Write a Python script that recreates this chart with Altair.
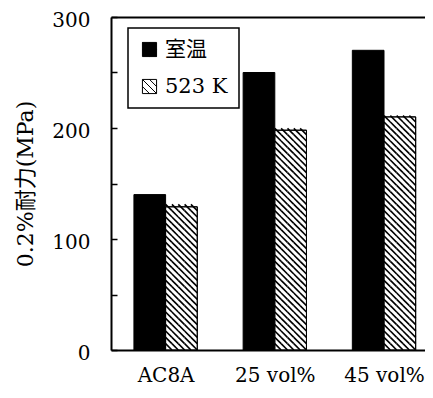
import json
import altair as alt
import pandas as pd

# ---- data ----
categories = ["AC8A", "25 vol%", "45 vol%"]
series = ["室温", "523 K"]
room_temp = [140, 250, 270]
hot_523k = [129, 198, 210]
y_ticks_major = [0, 100, 200, 300]
y_ticks_minor = [0, 50, 100, 150, 200, 250, 300]

# ---- layout ----
STEP = 109.2                 # px per category
W, H = 314, 333
XMIN = -0.5
XMAX = XMIN + W / STEP
YMAX = 300
HW = 0.29                    # bar width in category units
NCOL = 5                     # hatch cells across a bar
KX = STEP
KY = H / YMAX
CELL = HW * KX / NCOL

SERIF = "DejaVu Serif, Noto Sans CJK JP"

rows = []
for i, c in enumerate(categories):
    for s, vals in enumerate([room_temp, hot_523k]):
        rows.append({"cat": c, "series": series[s], "value": vals[i], "idx": i, "sidx": s})
df = pd.DataFrame(rows)

base = alt.Chart(df).transform_calculate(
    x0=f"datum.idx + (datum.sidx - 1) * {HW}",
    x1=f"datum.idx + datum.sidx * {HW}",
)

xscale = alt.Scale(domain=[XMIN, XMAX], nice=False, zero=False)
yscale = alt.Scale(domain=[0, YMAX], nice=False)

label_expr = f"{json.dumps(categories, ensure_ascii=False)}[datum.value]"

hatch_path = "M-1,-1H1V1H-1Z M-1,0L0,1 M-1,-1L1,1 M0,-1L1,0"

bars = base.mark_bar(stroke="black", strokeWidth=1).encode(
    x=alt.X("x0:Q", scale=xscale, axis=alt.Axis(
        orient="bottom", values=[0, 1, 2], labelExpr=label_expr, title=None,
        ticks=False, grid=False, domainColor="black", domainWidth=2,
        labelFont=SERIF, labelFontSize=20, labelColor="black", labelPadding=15)),
    x2="x1:Q",
    y=alt.Y("value:Q", scale=yscale, axis=alt.Axis(
        orient="left", values=y_ticks_major, title="0.2%耐力(MPa)",
        ticks=False, tickSize=0, grid=False, domainColor="black", domainWidth=2,
        labelFont=SERIF, labelFontSize=20, labelColor="black", labelPadding=21,
        labelOffset=3,
        titleFont=SERIF, titleFontSize=22, titleFontWeight="normal",
        titleColor="black", titlePadding=14)),
    y2=alt.datum(0),
    fill=alt.Fill("series:N", scale=alt.Scale(domain=series, range=["black", "white"]),
                  legend=alt.Legend(title=None, orient="none", legendX=17, legendY=11,
                                    symbolType=hatch_path, symbolSize=200,
                                    symbolStrokeColor="black", symbolStrokeWidth=1,
                                    labelFont=SERIF, labelFontSize=21, labelColor="black",
                                    labelOffset=5, padding=11, rowPadding=15,
                                    fillColor="white", strokeColor="black")),
)

hatch = alt.Chart(df[df["sidx"] == 1]).transform_calculate(
    row=f"sequence(0, round(datum.value * {KY / CELL}))",
    col=f"sequence(0, {NCOL})",
).transform_flatten(["row"]).transform_flatten(["col"]).transform_calculate(
    hx=f"datum.idx + {CELL / KX} * (datum.col + 0.5)",
    hy=f"{CELL / KY} * (datum.row + 0.5)",
).mark_point(shape="M-1,-1L1,1", size=CELL ** 2, color="black", strokeWidth=1.6,
             filled=False, opacity=1).encode(
    x=alt.X("hx:Q", scale=xscale, axis=alt.Axis(
        orient="top", labels=False, ticks=False, title=None, grid=False,
        domainColor="black", domainWidth=2)),
    y=alt.Y("hy:Q", scale=yscale, axis=alt.Axis(
        orient="right", offset=-W, values=y_ticks_minor, labels=False, domain=False,
        title=None, grid=False, ticks=True, tickSize=6, tickWidth=1.5, tickColor="black")),
)

outline = base.transform_filter("datum.sidx == 1").mark_bar(
    filled=False, color="black", strokeWidth=1).encode(
    x=alt.X("x0:Q", scale=xscale, axis=None),
    x2="x1:Q",
    y=alt.Y("value:Q", scale=yscale, axis=None),
    y2=alt.datum(0),
)

chart = alt.layer(bars, hatch, outline).resolve_axis(
    x="independent", y="independent"
).properties(
    width=W, height=H,
    autosize=alt.AutoSizeParams(type="none"),
    padding={"left": 103, "top": 9, "right": 0, "bottom": 36},
    background="white",
).configure_view(stroke=None).configure_legend(strokeWidth=1.5)

chart.save("out.html", embed_options={"renderer": "svg", "actions": False})
